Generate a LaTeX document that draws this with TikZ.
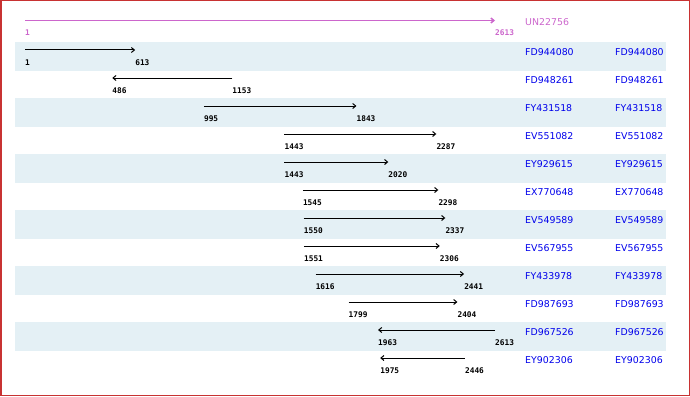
\documentclass[tikz,border=0pt]{standalone}
\usepackage{fontspec}
\setmainfont{DejaVu Sans}
\newfontfamily\numfont{DejaVu Sans Mono}
\usetikzlibrary{arrows.meta}
\definecolor{band}{RGB}{228,240,245}
\definecolor{bord}{RGB}{200,50,50}
\definecolor{mag}{RGB}{204,102,204}
\definecolor{idblue}{RGB}{0,0,235}
\tikzset{
  numlbl/.style={anchor=west,inner sep=0pt,font=\numfont\bfseries\fontsize{7.8}{8}\selectfont},
  idlbl/.style={anchor=west,inner sep=0pt,text=idblue,font=\fontsize{9.4}{9.4}\selectfont},
  hit/.style={line width=1pt,-{Straight Barb[length=3pt,width=5pt]}},
}
\begin{document}
\begin{tikzpicture}[x=1pt,y=-1pt]
\path[use as bounding box] (0,0) rectangle (690,396);
\draw[bord,line width=1.5pt] (0.75,0.75) rectangle (689.25,395.25);
\foreach \k in {0,2,...,10}{
  \fill[band] (15,42+28*\k) rectangle (666,71+28*\k);
}
% query
\coordinate (qs) at (25,20.5);
\coordinate (qe) at (495,20.5);
\draw[mag,line width=1.5pt,-{Straight Barb[length=3pt,width=5pt]}] (qs) -- (qe);
\node[numlbl,text=mag] (q1) at (25,33) {1};
\node[numlbl,text=mag] (q2) at (495,33) {2613};
\node[idlbl,text=mag] (qid) at (525,22) {UN22756};
% hits
\foreach \id/\a/\b/\dir [count=\i from 0] in {
 FD944080/1/613/1, FD948261/486/1153/0, FY431518/995/1843/1,
 EV551082/1443/2287/1, EY929615/1443/2020/1, EX770648/1545/2298/1,
 EV549589/1550/2337/1, EV567955/1551/2306/1, FY433978/1616/2441/1,
 FD987693/1799/2404/1, FD967526/1963/2613/0, EY902306/1975/2446/0}{
  \pgfmathsetmacro\xa{25+(\a-1)/2612*470}
  \pgfmathsetmacro\xb{25+(\b-1)/2612*470}
  \pgfmathsetmacro\yt{42+28*\i}
  \coordinate (s\i) at (\xa,\yt+8);
  \coordinate (e\i) at (\xb,\yt+8);
  \ifnum\dir=1
    \draw[hit] (s\i) -- (e\i);
  \else
    \draw[hit] (e\i) -- (s\i);
  \fi
  \node[numlbl] (lo\i) at (\xa,\yt+21) {\a};
  \node[numlbl] (hi\i) at (\xb,\yt+21) {\b};
  \node[idlbl] (ida\i) at (525,\yt+10) {\id};
  \node[idlbl] (idb\i) at (615,\yt+10) {\id};
}
\end{tikzpicture}
\end{document}
